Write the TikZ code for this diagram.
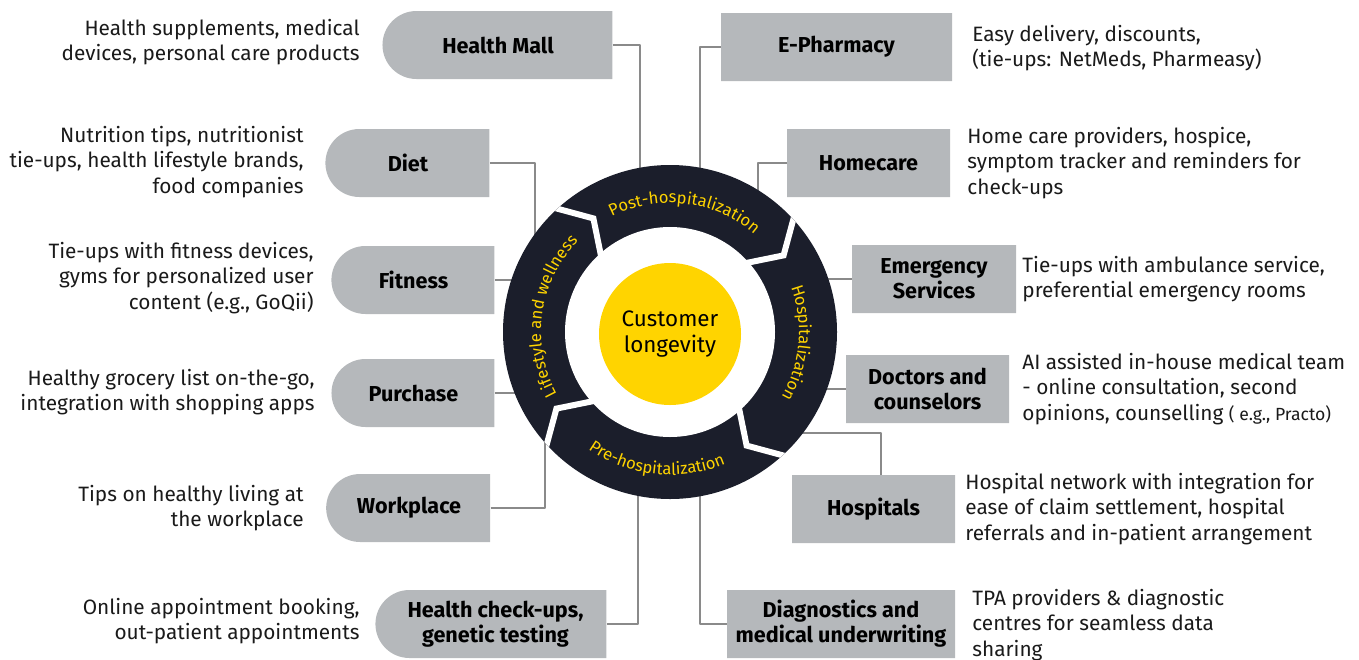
\documentclass[tikz,border=0pt]{standalone}
\usepackage{fontspec}
\setmainfont{Fira Sans}
\usetikzlibrary{shapes.misc,calc,decorations.text}
\definecolor{boxgray}{HTML}{B5B8BB}
\definecolor{ringdark}{HTML}{1B1E2B}
\definecolor{eyyellow}{HTML}{FFD400}
\definecolor{linegray}{HTML}{8A8A8A}
\definecolor{txtdark}{HTML}{1A1A1A}
\newcommand\ringfont{\color{eyyellow}\fontsize{8.3}{9}\selectfont}

\begin{document}
\begin{tikzpicture}[x=0.5pt,y=0.5pt,line join=round,
  lbox/.style={rounded rectangle,rounded rectangle right arc=none,fill=boxgray,minimum height=34pt,inner sep=0pt,align=center,text=black,font=\bfseries\fontsize{10.8}{12.6}\selectfont},
  rbox/.style={lbox,rounded rectangle right arc=normal,rounded rectangle left arc=none},
  ltext/.style={anchor=east,align=right,inner sep=0pt,text=txtdark,font=\fontsize{10.4}{12.6}\selectfont},
  rtext/.style={ltext,anchor=west,align=left},
  conn/.style={draw=linegray,line width=0.7pt},
  ringtext/.style={decorate,decoration={text along path,text align=center,text={|\ringfont|#1}}}]
\useasboundingbox (0,0) rectangle (1359,-659);
\coordinate (ctr) at (670,-332);

\node[lbox,minimum width=115pt] (hm) at (498,-45) {Health Mall};
\node[lbox,minimum width=82pt] (diet) at (408,-163) {Diet};
\node[lbox,minimum width=81.5pt] (fit) at (413.5,-280) {Fitness};
\node[lbox,minimum width=81.5pt] (purch) at (413.5,-393) {Purchase};
\node[lbox,minimum width=82pt] (work) at (409,-508) {Workplace};
\node[lbox,minimum width=115.5pt] (hcu) at (495.5,-624) {Health check-ups,\\genetic testing};

\node[rbox,minimum width=115.5pt] (eph) at (836.5,-47) {E-Pharmacy};
\node[rbox,minimum width=81.5pt] (home) at (868.5,-163) {Homecare};
\node[rbox,minimum width=82pt] (emer) at (934,-279) {Emergency\\Services};
\node[rbox,minimum width=81.5pt] (doc) at (927.5,-389) {Doctors and\\counselors};
\node[rbox,minimum width=81.5pt] (hosp) at (873.5,-509) {Hospitals};
\node[rbox,minimum width=114pt] (diag) at (841,-624) {Diagnostics and\\medical underwriting};

\node[ltext] (hmTxt) at (360,-42) {Health supplements, medical\\devices, personal care products};
\node[ltext] (dietTxt) at (304,-162) {Nutrition tips, nutritionist\\tie-ups, health lifestyle brands,\\food companies};
\node[ltext] (fitTxt) at (314,-278) {Tie-ups with fitness devices,\\gyms for personalized user\\content (e.g., GoQii)};
\node[ltext] (purchTxt) at (315,-392) {Healthy grocery list on-the-go,\\integration with shopping apps};
\node[ltext] (workTxt) at (304,-508) {Tips on healthy living at\\the workplace};
\node[ltext] (hcuTxt) at (360,-621) {Online appointment booking,\\out-patient appointments};
\node[rtext] (ephTxt) at (972,-48) {Easy delivery, discounts,\\(tie-ups: NetMeds, Pharmeasy)};
\node[rtext] (homeTxt) at (967,-163) {Home care providers, hospice,\\symptom tracker and reminders for\\check-ups};
\node[rtext] (emerTxt) at (1022,-279) {Tie-ups with ambulance service,\\preferential emergency rooms};
\node[rtext] (docTxt) at (1022,-389) {AI assisted in-house medical team\\- online consultation, second\\opinions, counselling {\fontsize{8.8}{12.6}\selectfont( e.g., Practo)}};
\node[rtext] (hospTxt) at (965,-509) {Hospital network with integration for\\ease of claim settlement, hospital\\referrals and in-patient arrangement};
\node[rtext] (diagTxt) at (972,-625) {TPA providers \& diagnostic\\centres for seamless data\\sharing};

% connectors end under the ring
\coordinate (hmEnd) at (640,-250);
\coordinate (ephEnd) at (700,-250);
\coordinate (dietEnd) at (535,-300);
\coordinate (homeEnd) at (758,-260);
\coordinate (fitEnd) at (560,0);
\coordinate (purchEnd) at (560,0);
\coordinate (emerEnd) at (780,0);
\coordinate (docEnd) at (780,0);
\coordinate (workEnd) at (545,-420);
\coordinate (hospEnd) at (760,-433);
\coordinate (hcuEnd) at (638,-420);
\coordinate (diagEnd) at (700,-420);
\draw[conn] (hm.east) -| (hmEnd);
\draw[conn] (eph.west) -| (ephEnd);
\draw[conn] (diet.east) -| (dietEnd);
\draw[conn] (home.west) -| (homeEnd);
\draw[conn] (fit.east) -- (fit.east -| fitEnd);
\draw[conn] (purch.east) -- (purch.east -| purchEnd);
\draw[conn] (emer.west) -- (emer.west -| emerEnd);
\draw[conn] (doc.west) -- (doc.west -| docEnd);
\draw[conn] (work.east) -| (workEnd);
\draw[conn] ([xshift=3.75pt]hosp.north) |- (hospEnd);
\draw[conn] (hcu.east) -| (hcuEnd);
\draw[conn] (diag.west) -| (diagEnd);

% cycle ring
\fill[ringdark] (ctr) circle (167);
\begin{scope}
\clip (ctr) circle (167);
\foreach \a in {135,45,-45,-135}
  \draw[white,line width=3pt,line join=miter] ($(ctr)+(\a:180)$) -- ($(ctr)+({\a-11}:137)$) -- ($(ctr)+(\a:95)$);
\end{scope}
\fill[white] (ctr) circle (105);
\path[ringtext=Post-hospitalization] ($(ctr)+(121:129)$) arc[start angle=121,end angle=45,radius=129];
\path[ringtext=Hospitalization] ($(ctr)+(22:129)$) arc[start angle=22,end angle=-32,radius=129];
\path[ringtext=Pre-hospitalization] ($(ctr)+(-133:143)$) arc[start angle=-133,end angle=-59,radius=143];
\path[ringtext=Lifestyle and wellness] ($(ctr)+(213:129)$) arc[start angle=213,end angle=131,radius=129];
\node[circle,fill=eyyellow,minimum size=71pt,align=center,text=black,font=\fontsize{11.2}{13}\selectfont] (cust) at ($(ctr)+(0,-2)$) {Customer\\longevity};
\end{tikzpicture}
\end{document}
